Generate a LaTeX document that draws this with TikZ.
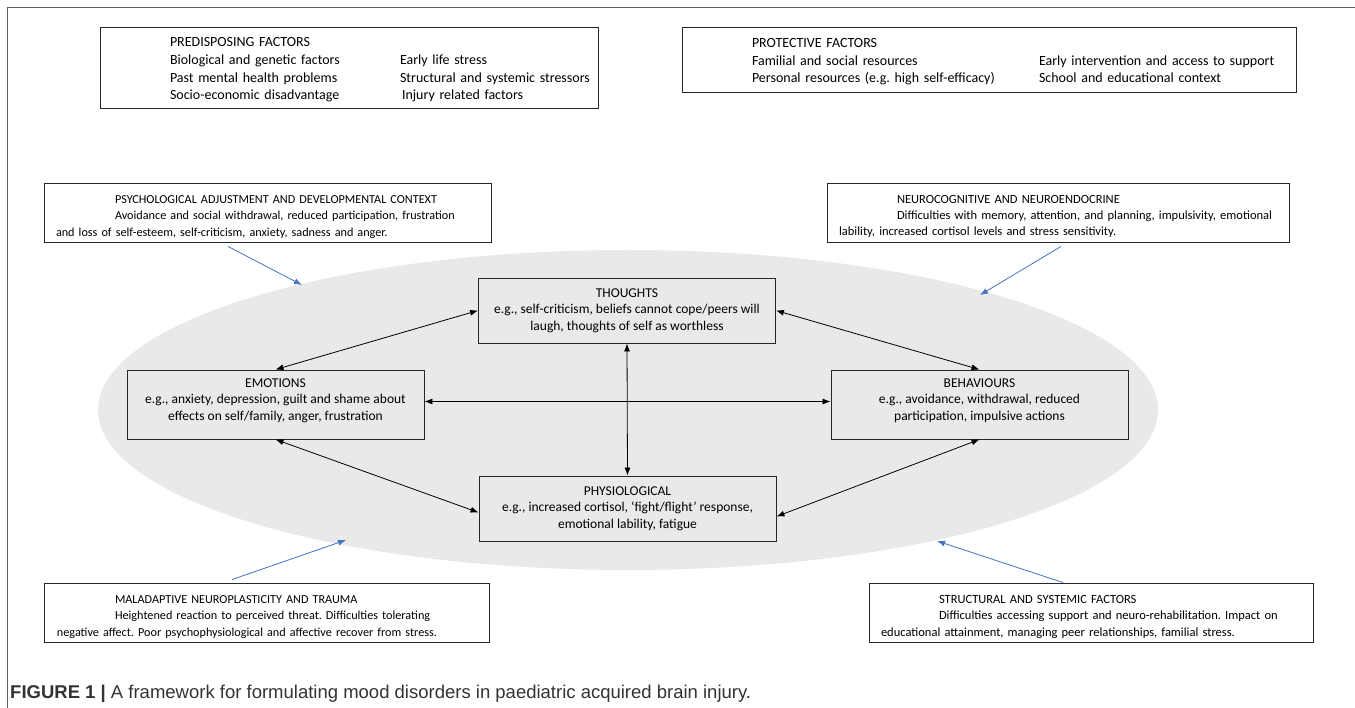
\documentclass[tikz,border=0pt]{standalone}
\usepackage{fontspec}
\setmainfont{Carlito}
\newfontfamily\capfont{Liberation Sans}
\usepackage{xcolor}
\usetikzlibrary{arrows.meta, positioning}
\definecolor{ovalgray}{RGB}{233,233,233}
\definecolor{linkblue}{RGB}{68,114,196}
\definecolor{framegray}{RGB}{95,95,95}
\frenchspacing
\newcommand{\toppad}[1]{\rule{0pt}{#1}}

\begin{document}
\begin{tikzpicture}[x=1pt, y=-1pt, >={Latex[length=8pt, width=6pt]},
    factor/.style={draw=black!85, line width=0.9pt, fill=white, align=left, inner xsep=0pt, inner ysep=0pt},
    core/.style={draw=black!85, line width=0.9pt, fill=ovalgray, align=center, minimum width=297pt,
        font=\fontsize{13.5}{16.5}\selectfont},
    link/.style={<->, line width=0.8pt},
    infl/.style={->, linkblue, line width=0.8pt}]

    % 1. Khung và nền elip
    \useasboundingbox (0,0) rectangle (1355,708);
    \draw[framegray, line width=1pt] (7,708) -- (7,8) -- (1355,8);
    \fill[ovalgray] (628,410) ellipse (530 and 160);

    % 2. Hai hộp phía trên
    \node[factor, text width=498pt, minimum height=81pt, font=\fontsize{14}{17.7}\selectfont]
        (pred) at (349,67.5) {%
        \begin{tabular}{@{\hspace{70pt}}p{230pt}@{}l@{}}
            \toppad{17pt}PREDISPOSING FACTORS & \\
            Biological and genetic factors & Early life stress \\
            Past mental health problems & Structural and systemic stressors \\
            Socio-economic disadvantage & \hspace{2pt}Injury related factors
        \end{tabular}};
    \node[factor, text width=614pt, minimum height=65pt, font=\fontsize{14}{17.7}\selectfont]
        (prot) at (989,59.5) {%
        \begin{tabular}{@{\hspace{70pt}}p{287pt}@{}l@{}}
            \toppad{16.5pt}PROTECTIVE FACTORS & \\
            Familial and social resources & Early intervention and access to support \\
            Personal resources (e.g. high self-efficacy) & School and educational context
        \end{tabular}};

    % 3. Bốn hộp ở các góc
    \node[factor, text width=447pt, minimum height=59pt, font=\fontsize{12.2}{16.3}\selectfont]
        (psy) at (267.5,212.5) {%
        \toppad{17pt}\hspace*{71pt}PSYCHOLOGICAL ADJUSTMENT AND DEVELOPMENTAL CONTEXT\\
        \hspace*{71pt}Avoidance and social withdrawal, reduced participation, frustration\\
        \hspace*{12pt}and loss of self-esteem, self-criticism, anxiety, sadness and anger.};
    \node[factor, text width=462pt, minimum height=59pt, font=\fontsize{12.5}{16.3}\selectfont]
        (neu) at (1058,212.5) {%
        \toppad{16pt}\hspace*{70pt}NEUROCOGNITIVE AND NEUROENDOCRINE\\
        \hspace*{70pt}Difficulties with memory, attention, and planning, impulsivity, emotional\\
        \hspace*{12pt}lability, increased cortisol levels and stress sensitivity.};
    \node[factor, text width=445pt, minimum height=59pt, font=\fontsize{12.2}{16.3}\selectfont]
        (mal) at (266.5,612.5) {%
        \toppad{17pt}\hspace*{71pt}MALADAPTIVE NEUROPLASTICITY AND TRAUMA\\
        \hspace*{71pt}Heightened reaction to perceived threat. Difficulties tolerating\\
        \hspace*{13pt}negative affect. Poor psychophysiological and affective recover from stress.};
    \node[factor, text width=444pt, minimum height=59pt, font=\fontsize{12.5}{16.3}\selectfont]
        (str) at (1091,612.5) {%
        \toppad{17pt}\hspace*{70pt}STRUCTURAL AND SYSTEMIC FACTORS\\
        \hspace*{70pt}Difficulties accessing support and neuro-rehabilitation. Impact on\\
        \hspace*{12pt}educational attainment, managing peer relationships, familial stress.};

    % 4. Bốn hộp trung tâm
    \node[core, minimum height=65pt] (tho) at (627,310.5)
        {THOUGHTS\\e.g., self-criticism, beliefs cannot cope/peers will\\laugh, thoughts of self as worthless};
    \node[core, minimum height=69pt] (emo) at (275.5,404.5)
        {EMOTIONS\\e.g., anxiety, depression, guilt and shame about\\effects on self/family, anger, frustration\\[-6pt]};
    \node[core, minimum height=69pt] (beh) at (979.5,404.5)
        {BEHAVIOURS\\e.g., avoidance, withdrawal, reduced\\participation, impulsive actions\\[-6pt]};
    \node[core, minimum height=65pt] (phy) at (627.5,508.5)
        {PHYSIOLOGICAL\\e.g., increased cortisol, `fight/flight' response,\\emotional lability, fatigue};

    % 5. Mũi tên hai chiều
    \draw[link] (emo.north) -- (tho.west);
    \draw[link] (tho.east) -- (beh.north);
    \draw[link] ([yshift=3pt]emo.east) -- ([yshift=3pt]beh.west);
    \draw[link] (tho.south) -- (phy.north);
    \draw[link] (emo.south) -- ([yshift=-4pt]phy.west);
    \draw[link] ([yshift=-8pt]phy.east) -- (beh.south);

    % 6. Mũi tên ảnh hưởng (xanh)
    \coordinate (psyin) at (302,285);
    \coordinate (neuin) at (980,295);
    \coordinate (malin) at (346,540);
    \coordinate (strin) at (937,541);
    \draw[infl] ([xshift=-39.5pt, yshift=-4pt]psy.south) -- (psyin);
    \draw[infl] ([xshift=3pt, yshift=-4pt]neu.south) -- (neuin);
    \draw[infl] ([xshift=-34.5pt, yshift=3pt]mal.north) -- (malin);
    \draw[infl] ([xshift=-28pt]str.north) -- (strin);

    % 7. Chú thích hình
    \node[anchor=base west, inner sep=0pt, text=black!80, font=\capfont\fontsize{18.5}{21}\selectfont]
        (cap) at (10,698) {\textbf{FIGURE 1 |} A framework for formulating mood disorders in paediatric acquired brain injury.};
\end{tikzpicture}
\end{document}
